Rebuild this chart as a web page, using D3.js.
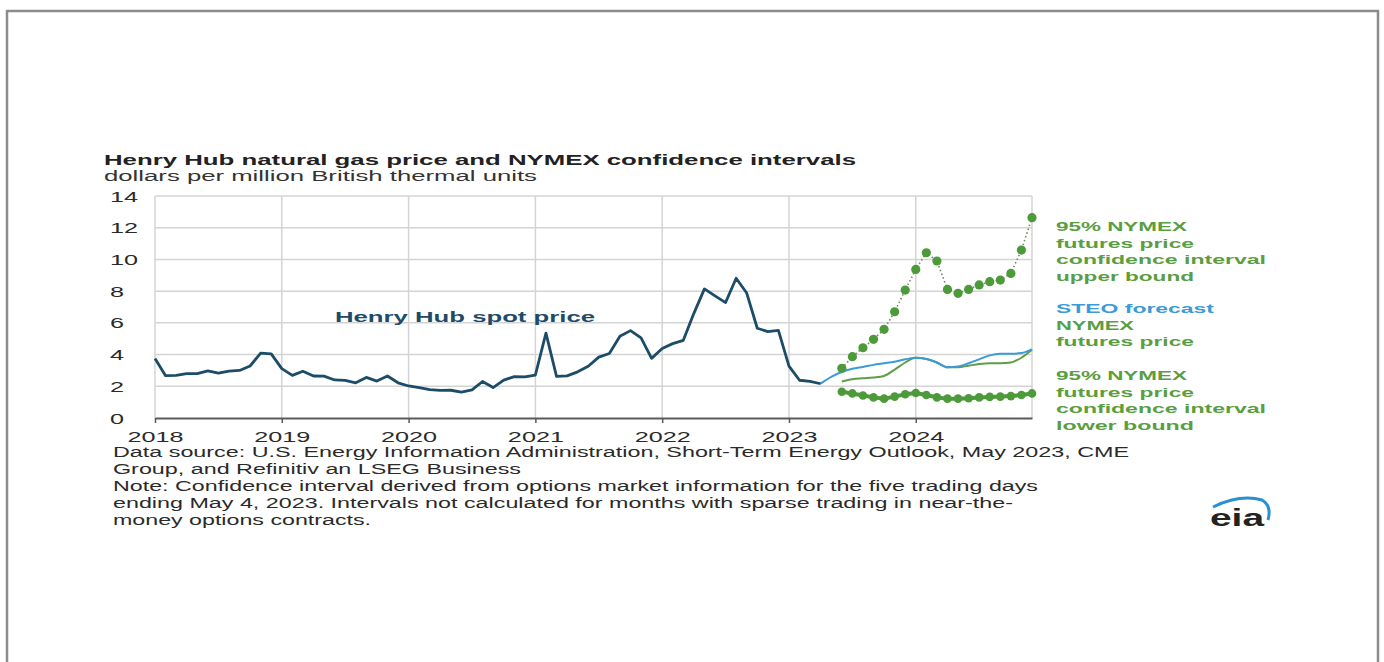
<!DOCTYPE html>
<html>
<meta charset="utf-8">
<style>
    body {
        margin: 0;
        background: #fff;
    }
    svg text {
        font-family: "Liberation Sans", Arial, sans-serif;
    }
    .grid line {
        stroke: #d4d4d4;
        stroke-width: 1.5;
    }
</style>
<body>
<script src="https://d3js.org/d3.v7.min.js"></script>
<div id="chart"></div>
<script>
    // monthly values, month 0 = Jan 2018
    var years = [2018, 2019, 2020, 2021, 2022, 2023, 2024];
    var yTicks = [0, 2, 4, 6, 8, 10, 12, 14];

    var spotPrice = [
        3.75, 2.67, 2.69, 2.80, 2.80, 2.97, 2.83, 2.96, 3.00, 3.28, 4.09, 4.04,
        3.11, 2.69, 2.95, 2.65, 2.64, 2.40, 2.37, 2.22, 2.56, 2.33, 2.65, 2.22,
        2.02, 1.91, 1.79, 1.74, 1.75, 1.63, 1.77, 2.30, 1.92, 2.39, 2.61, 2.59,
        2.71, 5.35, 2.62, 2.66, 2.91, 3.26, 3.84, 4.07, 5.16, 5.51, 5.05, 3.76,
        4.38, 4.69, 4.90, 6.60, 8.14, 7.70, 7.28, 8.81, 7.88, 5.66, 5.45, 5.53,
        3.27, 2.38, 2.31, 2.16
    ];

    var steoStart = 63; // Apr 2023
    var steoForecast = [2.18, 2.6, 2.9, 3.1, 3.22, 3.35, 3.45, 3.55, 3.7, 3.8, 3.72,
        3.5, 3.2, 3.25, 3.45, 3.7, 3.95, 4.05, 4.05, 4.1, 4.33];

    var ciStart = 65; // Jun 2023
    var nymexFutures = [2.3, 2.45, 2.5, 2.55, 2.65, 3.05, 3.5, 3.8, 3.72, 3.5,
        3.2, 3.2, 3.3, 3.4, 3.45, 3.45, 3.5, 3.8, 4.3];
    var ciUpper = [3.13, 3.87, 4.43, 4.96, 5.59, 6.70, 8.07, 9.37, 10.42, 9.9,
        8.11, 7.86, 8.11, 8.39, 8.6, 8.7, 9.12, 10.59, 12.63];
    var ciLower = [1.66, 1.55, 1.42, 1.3, 1.22, 1.35, 1.5, 1.58, 1.45, 1.3,
        1.22, 1.22, 1.25, 1.3, 1.33, 1.35, 1.38, 1.45, 1.55];

    var W = 1384, H = 662;
    var SX = 1.8; // the picture is stretched sideways

    var svg = d3.select("#chart").append("svg")
        .attr("width", W)
        .attr("height", H);

    function fit(sel, w) {
        sel.attr("textLength", w).attr("lengthAdjust", "spacingAndGlyphs");
    }
    function stretch(sel) {
        sel.each(function () {
            this.setAttribute("textLength", this.getComputedTextLength() * SX);
            this.setAttribute("lengthAdjust", "spacingAndGlyphs");
        });
    }

    // outer frame
    svg.append("path")
        .attr("d", "M7," + H + "L7,11L1378,11L1378," + H)
        .attr("fill", "none")
        .attr("stroke", "#8c8c8c")
        .attr("stroke-width", 2.5);

    var x = d3.scaleLinear().domain([0, 83]).range([155, 1032]);
    var y = d3.scaleLinear().domain([0, 14]).range([418, 196]);

    // grid
    var grid = svg.append("g").attr("class", "grid");
    grid.selectAll("line.h").data(yTicks.slice(1))
        .enter().append("line").attr("class", "h")
        .attr("x1", x(0)).attr("x2", x(83))
        .attr("y1", function (d) { return y(d); })
        .attr("y2", function (d) { return y(d); });
    grid.selectAll("line.v").data(years.map(function (d) { return (d - 2018) * 12; }).concat([83]))
        .enter().append("line").attr("class", "v")
        .attr("x1", function (d) { return x(d); })
        .attr("x2", function (d) { return x(d); })
        .attr("y1", y(14)).attr("y2", y(0));

    // axes
    var xAxis = d3.axisBottom(x)
        .tickValues(years.map(function (d) { return (d - 2018) * 12; }))
        .tickFormat(function (d) { return 2018 + d / 12; })
        .tickSizeInner(5).tickSizeOuter(0);
    var gx = svg.append("g")
        .attr("transform", "translate(0," + y(0) + ")")
        .call(xAxis);
    gx.select(".domain").attr("stroke", "#5a5a5a").attr("stroke-width", 2.2);
    gx.selectAll(".tick line").attr("stroke", "#5a5a5a").attr("stroke-width", 1.5);
    gx.selectAll(".tick text")
        .attr("y", 24).attr("dy", 0)
        .attr("font-size", 14).attr("fill", "#2a2a2a")
        .call(stretch);

    var yAxis = d3.axisLeft(y).tickValues(yTicks).tickSize(0);
    var gy = svg.append("g")
        .attr("transform", "translate(" + x(0) + ",0)")
        .call(yAxis);
    gy.select(".domain").remove();
    gy.selectAll(".tick text")
        .attr("x", 110 - x(0)).attr("dy", "0.36em")
        .attr("text-anchor", "start")
        .attr("font-size", 14).attr("fill", "#2a2a2a")
        .call(stretch);

    var line = function (start) {
        return d3.line()
            .x(function (d, i) { return x(start + i); })
            .y(function (d) { return y(d); })
            .curve(d3.curveMonotoneX);
    };

    // forecast lines
    svg.append("path").datum(nymexFutures)
        .attr("d", line(ciStart))
        .attr("fill", "none").attr("stroke", "#5e9e48").attr("stroke-width", 2);
    svg.append("path").datum(steoForecast)
        .attr("d", line(steoStart))
        .attr("fill", "none").attr("stroke", "#3b9ad8").attr("stroke-width", 2);

    // spot price
    svg.append("path").datum(spotPrice)
        .attr("d", d3.line()
            .x(function (d, i) { return x(i); })
            .y(function (d) { return y(d); }))
        .attr("fill", "none").attr("stroke", "#1d4c69")
        .attr("stroke-width", 2.8).attr("stroke-linejoin", "round");

    // confidence bounds
    svg.append("path").datum(ciUpper)
        .attr("d", d3.line()
            .x(function (d, i) { return x(ciStart + i); })
            .y(function (d) { return y(d); }))
        .attr("fill", "none").attr("stroke", "#6f8a62")
        .attr("stroke-width", 1.6).attr("stroke-dasharray", "1.5,2.5");
    svg.selectAll("circle.up").data(ciUpper)
        .enter().append("circle").attr("class", "up")
        .attr("cx", function (d, i) { return x(ciStart + i); })
        .attr("cy", function (d) { return y(d); })
        .attr("r", 4.6).attr("fill", "#4d9a3a");

    svg.append("path").datum(ciLower)
        .attr("d", d3.line()
            .x(function (d, i) { return x(ciStart + i); })
            .y(function (d) { return y(d); }))
        .attr("fill", "none").attr("stroke", "#4d9a3a").attr("stroke-width", 4);
    svg.selectAll("circle.lo").data(ciLower)
        .enter().append("circle").attr("class", "lo")
        .attr("cx", function (d, i) { return x(ciStart + i); })
        .attr("cy", function (d) { return y(d); })
        .attr("r", 4.3).attr("fill", "#4d9a3a");

    // titles
    svg.append("text").attr("x", 104).attr("y", 165)
        .attr("font-size", 14).attr("font-weight", "bold").attr("fill", "#222")
        .text("Henry Hub natural gas price and NYMEX confidence intervals")
        .call(fit, 752);
    svg.append("text").attr("x", 104).attr("y", 181)
        .attr("font-size", 14).attr("fill", "#333")
        .text("dollars per million British thermal units")
        .call(fit, 433);

    svg.append("text").attr("x", 335).attr("y", 322)
        .attr("font-size", 15).attr("font-weight", "bold").attr("fill", "#1d4c69")
        .text("Henry Hub spot price")
        .call(fit, 260);

    // right-hand labels
    var green = "#5a9e3f", blue = "#3b9ad8";
    var sideLabels = [
        ["95% NYMEX", 231, 131, green],
        ["futures price", 247.5, 138, green],
        ["confidence interval", 264, 210, green],
        ["upper bound", 281, 138, green],
        ["STEO forecast", 313, 158, blue],
        ["NYMEX", 329.5, 78, green],
        ["futures price", 346, 138, green],
        ["95% NYMEX", 380, 131, green],
        ["futures price", 396.5, 138, green],
        ["confidence interval", 413, 210, green],
        ["lower bound", 429.5, 138, green]
    ];
    sideLabels.forEach(function (l) {
        svg.append("text").attr("x", 1056).attr("y", l[1])
            .attr("font-size", 13).attr("font-weight", "bold").attr("fill", l[3])
            .text(l[0]).call(fit, l[2]);
    });

    // source and notes
    var notes = [
        ["Data source: U.S. Energy Information Administration, Short-Term Energy Outlook, May 2023, CME", 1016],
        ["Group, and Refinitiv an LSEG Business", 408],
        ["Note: Confidence interval derived from options market information for the five trading days", 925],
        ["ending May 4, 2023. Intervals not calculated for months with sparse trading in near-the-", 900],
        ["money options contracts.", 258]
    ];
    notes.forEach(function (n, i) {
        svg.append("text").attr("x", 113).attr("y", 457 + i * 17)
            .attr("font-size", 14).attr("fill", "#2a2a2a")
            .text(n[0]).call(fit, n[1]);
    });

    // eia logo
    svg.append("text").attr("x", 1210).attr("y", 526)
        .attr("font-size", 24).attr("font-weight", "bold").attr("fill", "#222")
        .text("eia").call(fit, 54);
    svg.append("path")
        .attr("d", "M1213,507 Q1240,494 1262,500 Q1272,506 1268,520")
        .attr("fill", "none").attr("stroke", "#2b8fd2").attr("stroke-width", 3);
</script>
</body>
</html>
